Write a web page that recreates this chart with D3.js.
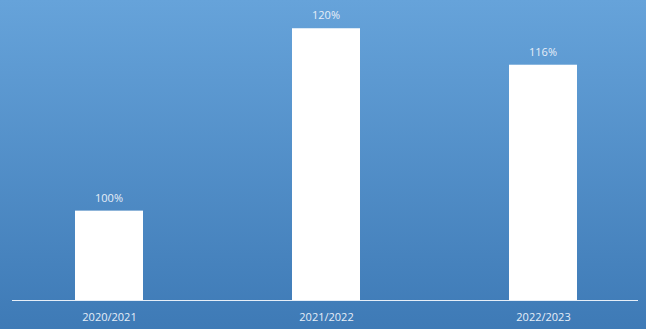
<!DOCTYPE html>
<html><head><meta charset="utf-8">
<script src="https://cdn.jsdelivr.net/npm/d3@7"></script>
<style>html,body{margin:0;padding:0;background:#fff}svg{display:block}</style>
</head><body>
<script>
const categories = ["2020/2021", "2021/2022", "2022/2023"];
const values = [100, 120, 116];
const valueLabels = ["100%", "120%", "116%"];

const W = 646, H = 329;
const svg = d3.select("body").append("svg").attr("width", W).attr("height", H);
const defs = svg.append("defs");
const g = defs.append("linearGradient").attr("id", "bg").attr("x1", 0).attr("y1", 0).attr("x2", 0).attr("y2", 1);
g.append("stop").attr("offset", "0%").attr("stop-color", "#66a3da");
g.append("stop").attr("offset", "100%").attr("stop-color", "#3e7ab6");
svg.append("rect").attr("width", W).attr("height", H).attr("fill", "url(#bg)");

const x = d3.scalePoint().domain(categories).range([109, 543]);
const y = d3.scaleLinear().domain([90.2, 122]).range([300, 10]);
const bw = 68;

svg.selectAll("rect.bar").data(values).join("rect").attr("class", "bar")
  .attr("x", (d, i) => x(categories[i]) - bw / 2)
  .attr("y", d => y(d))
  .attr("width", bw)
  .attr("height", d => y.range()[0] - y(d))
  .attr("fill", "#ffffff");

svg.selectAll("text.val").data(values).join("text").attr("class", "val")
  .attr("x", (d, i) => x(categories[i]))
  .attr("y", d => y(d) - 9)
  .attr("text-anchor", "middle")
  .attr("font-family", "Open Sans, Liberation Sans, sans-serif")
  .attr("font-size", 11)
  .attr("fill", "#e6eef8")
  .text((d, i) => valueLabels[i]);

const axis = d3.axisBottom(x).tickSize(0).tickPadding(13);
const ax = svg.append("g").attr("transform", "translate(0,300)").call(axis);
ax.select(".domain").remove();
ax.append("line").attr("x1", 12).attr("x2", 638).attr("y1", 0.5).attr("y2", 0.5).attr("stroke", "#e6eef8").attr("stroke-width", 1);
ax.selectAll("text").attr("font-family", "Open Sans, Liberation Sans, sans-serif").attr("font-size", 11).attr("fill", "#e6eef8");
</script>
</body></html>
